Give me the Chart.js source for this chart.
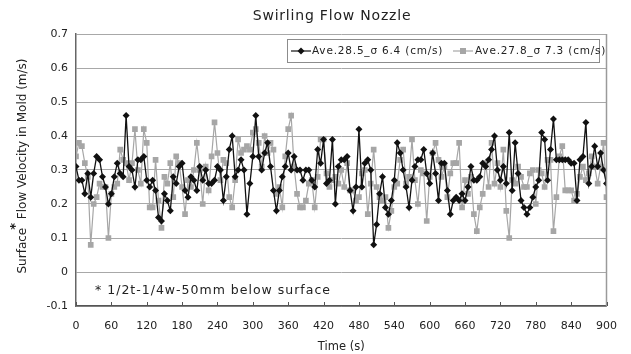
<!DOCTYPE html>
<html>
<head>
<meta charset="utf-8">
<script src="https://cdn.jsdelivr.net/npm/chart.js@4.4.1/dist/chart.umd.min.js"></script>
<style>
  html, body { margin: 0; padding: 0; background: #fff; }
  canvas { display: block; }
</style>
</head>
<body>
<canvas id="chart" width="631" height="354"></canvas>
<script>
// Surface flow velocity sampled every 5 s over a 900 s casting window
const sampleStepSec = 5;

const seriesLabels = ['Ave.28.5_\u03c3 6.4 (cm/s)', 'Ave.27.8_\u03c3 7.3 (cm/s)'];

// first series (black diamonds), m/s
const velocityA = [
  0.31, 0.27, 0.27, 0.23, 0.29, 0.22, 0.29, 0.34, 0.33, 0.28, 0.25, 0.20, 0.23, 0.28, 0.32, 0.29, 0.28, 0.46, 0.31, 0.30,
  0.25, 0.33, 0.33, 0.34, 0.27, 0.25, 0.27, 0.24, 0.16, 0.15,
  0.23, 0.21, 0.18, 0.28, 0.26, 0.31, 0.32, 0.24, 0.22, 0.28, 0.27, 0.24, 0.31, 0.27, 0.30, 0.26, 0.26, 0.27, 0.31, 0.30,
  0.21, 0.28, 0.36, 0.40, 0.28, 0.30, 0.33, 0.30, 0.17,
  0.26, 0.34, 0.46, 0.34, 0.30, 0.35, 0.38, 0.31, 0.24, 0.18, 0.24, 0.28, 0.31, 0.35, 0.30, 0.34, 0.30, 0.30, 0.27, 0.30,
  0.30, 0.27, 0.25, 0.36, 0.32, 0.39, 0.26, 0.27, 0.39, 0.20, 0.31, 0.33,
  0.33, 0.34, 0.24, 0.18, 0.25, 0.42, 0.25, 0.32, 0.33, 0.30, 0.08, 0.14, 0.23, 0.28, 0.19, 0.17, 0.21, 0.27, 0.38, 0.35,
  0.30, 0.25, 0.19, 0.27, 0.31, 0.33, 0.33, 0.36, 0.29, 0.26, 0.35,
  0.29, 0.21, 0.32, 0.32, 0.24, 0.17, 0.21, 0.22, 0.21, 0.23, 0.21, 0.25, 0.31, 0.27, 0.27, 0.28, 0.32, 0.31, 0.33, 0.36,
  0.40, 0.30, 0.27, 0.31, 0.26, 0.41, 0.24, 0.38, 0.29, 0.21, 0.19,
  0.17, 0.19, 0.22, 0.25, 0.27, 0.41, 0.39, 0.27, 0.36, 0.45, 0.33, 0.33, 0.33, 0.33, 0.33, 0.32, 0.32, 0.21, 0.33, 0.34,
  0.44, 0.26, 0.31, 0.37, 0.31, 0.35, 0.30, 0.26
];

// second series (grey squares), m/s
const velocityB = [
  0.34, 0.38, 0.37, 0.32, 0.28, 0.08, 0.20, 0.22, 0.26, 0.25, 0.25, 0.10, 0.23, 0.25, 0.26, 0.36, 0.33, 0.32, 0.27, 0.32,
  0.42, 0.30, 0.26, 0.42, 0.38, 0.19, 0.19, 0.33, 0.21, 0.13,
  0.28, 0.26, 0.32, 0.22, 0.34, 0.32, 0.25, 0.17, 0.27, 0.25, 0.30, 0.38, 0.30, 0.20, 0.31, 0.24, 0.34, 0.44, 0.35, 0.27,
  0.33, 0.32, 0.22, 0.19, 0.27, 0.39, 0.35, 0.36, 0.37,
  0.36, 0.41, 0.42, 0.38, 0.31, 0.40, 0.35, 0.38, 0.36, 0.23, 0.25, 0.19, 0.34, 0.42, 0.46, 0.31, 0.23, 0.19, 0.19, 0.21,
  0.26, 0.27, 0.19, 0.28, 0.39, 0.39, 0.29, 0.25, 0.27, 0.28, 0.26, 0.30,
  0.25, 0.32, 0.24, 0.24, 0.21, 0.22, 0.29, 0.30, 0.17, 0.26, 0.36, 0.25, 0.22, 0.21, 0.22, 0.13, 0.18, 0.25, 0.26, 0.33,
  0.36, 0.26, 0.28, 0.39, 0.27, 0.20, 0.30, 0.29, 0.15, 0.28, 0.35,
  0.38, 0.33, 0.28, 0.31, 0.22, 0.29, 0.32, 0.32, 0.38, 0.19, 0.27, 0.23, 0.28, 0.17, 0.12, 0.19, 0.23, 0.32, 0.25, 0.38,
  0.26, 0.32, 0.25, 0.36, 0.18, 0.10, 0.27, 0.26, 0.31, 0.28, 0.25,
  0.25, 0.29, 0.30, 0.20, 0.30, 0.29, 0.25, 0.33, 0.33, 0.12, 0.22, 0.34, 0.37, 0.24, 0.24, 0.24, 0.21, 0.23, 0.28, 0.31,
  0.27, 0.29, 0.34, 0.31, 0.26, 0.31, 0.38, 0.22
];

const timeTicks = [0, 60, 120, 180, 240, 300, 360, 420, 480, 540, 600, 660, 720, 780, 840, 900];
const velocityTicks = [-0.1, 0, 0.1, 0.2, 0.3, 0.4, 0.5, 0.6, 0.7];

const chartTitle = 'Swirling Flow Nozzle';
const footNote = '* 1/2t-1/4w-50mm below surface';

const toPoints = vals => vals.map((v, i) => ({ x: i * sampleStepSec, y: v }));

const COLOR_A = '#111111';
const COLOR_B = '#a6a6a6';
const TEXT = '#222222';
const FONT = '"DejaVu Sans", sans-serif';

// title, y-axis caption, footnote, frame, inner ticks and legend
const decorations = {
  id: 'decorations',
  afterDraw(chart) {
    const { ctx, chartArea: a, scales } = chart;
    ctx.save();

    // right border of the plot frame
    ctx.strokeStyle = '#9a9a9a';
    ctx.lineWidth = 1.5;
    ctx.beginPath();
    ctx.moveTo(a.right, a.top);
    ctx.lineTo(a.right, a.bottom);
    ctx.stroke();

    // tick marks pointing into the plot from the time axis
    ctx.strokeStyle = '#555';
    ctx.lineWidth = 1;
    timeTicks.forEach(t => {
      const x = Math.round(scales.x.getPixelForValue(t)) + 0.5;
      ctx.beginPath();
      ctx.moveTo(x, a.bottom);
      ctx.lineTo(x, a.bottom - 4);
      ctx.stroke();
    });

    // chart title
    ctx.fillStyle = TEXT;
    ctx.font = '14px ' + FONT;
    ctx.letterSpacing = '0.8px';
    ctx.textAlign = 'center';
    ctx.textBaseline = 'middle';
    ctx.fillText(chartTitle, 332, 16);
    ctx.letterSpacing = '0px';

    // rotated y-axis caption with the raised asterisk after "Surface"
    ctx.save();
    ctx.translate(23, 165);
    ctx.rotate(-Math.PI / 2);
    ctx.font = '12px ' + FONT;
    const p1 = 'Surface';
    const star = '*';
    const p2 = ' Flow Velocity in Mold (m/s)';
    const w1 = ctx.measureText(p1).width;
    ctx.font = 'bold 13px ' + FONT;
    const ws = ctx.measureText(star).width;
    ctx.font = '12px ' + FONT;
    const w2 = ctx.measureText(p2).width;
    const x0 = -(w1 + ws + w2) / 2;
    ctx.textAlign = 'left';
    ctx.textBaseline = 'middle';
    ctx.fillText(p1, x0, 0);
    ctx.font = 'bold 13px ' + FONT;
    ctx.fillText(star, x0 + w1 - 2, -7);
    ctx.font = '12px ' + FONT;
    ctx.fillText(p2, x0 + w1 + ws - 2, 0);
    ctx.restore();

    // footnote inside the plot
    ctx.font = '12.5px ' + FONT;
    ctx.letterSpacing = '1px';
    ctx.textAlign = 'left';
    ctx.textBaseline = 'middle';
    ctx.fillStyle = TEXT;
    ctx.fillText(footNote, 95, 291);

    // legend box
    const lx = 287, ly = 39, lw = 312, lh = 23;
    ctx.fillStyle = '#fff';
    ctx.fillRect(lx, ly, lw, lh);
    ctx.strokeStyle = '#8c8c8c';
    ctx.lineWidth = 1;
    ctx.strokeRect(lx + 0.5, ly + 0.5, lw, lh);
    const cy = ly + lh / 2 + 0.5;
    ctx.font = '10.5px ' + FONT;
    ctx.letterSpacing = '0.8px';
    ctx.textBaseline = 'middle';

    // entry 1: line with diamond
    ctx.strokeStyle = COLOR_A;
    ctx.lineWidth = 1.2;
    ctx.beginPath(); ctx.moveTo(291, cy); ctx.lineTo(311, cy); ctx.stroke();
    ctx.fillStyle = COLOR_A;
    ctx.beginPath();
    ctx.moveTo(301, cy - 3.5); ctx.lineTo(304.5, cy); ctx.lineTo(301, cy + 3.5); ctx.lineTo(297.5, cy);
    ctx.closePath(); ctx.fill();
    ctx.fillStyle = TEXT;
    ctx.fillText(seriesLabels[0], 312, cy);

    // entry 2: line with square
    ctx.strokeStyle = COLOR_B;
    ctx.beginPath(); ctx.moveTo(453, cy); ctx.lineTo(473, cy); ctx.stroke();
    ctx.fillStyle = COLOR_B;
    ctx.fillRect(460, cy - 3, 6, 6);
    ctx.fillStyle = TEXT;
    ctx.fillText(seriesLabels[1], 475, cy);
    ctx.letterSpacing = '0px';

    ctx.restore();
  }
};

new Chart(document.getElementById('chart'), {
  type: 'line',
  data: {
    datasets: [
      {
        label: seriesLabels[0],
        data: toPoints(velocityA),
        borderColor: COLOR_A,
        backgroundColor: COLOR_A,
        borderWidth: 1.3,
        pointStyle: 'rectRot',
        pointRadius: 3.5,
        pointBorderWidth: 0,
        tension: 0
      },
      {
        label: seriesLabels[1],
        data: toPoints(velocityB),
        borderColor: COLOR_B,
        backgroundColor: COLOR_B,
        borderWidth: 1.2,
        pointStyle: 'rect',
        pointRadius: 4,
        pointBorderWidth: 0,
        tension: 0
      }
    ]
  },
  options: {
    responsive: false,
    animation: false,
    layout: { padding: { top: 34, right: 24, left: 0, bottom: 0 } },
    plugins: {
      legend: { display: false },
      title: { display: false },
      tooltip: { enabled: false }
    },
    scales: {
      x: {
        type: 'linear',
        min: 0,
        max: 900,
        afterFit: s => { s.height = 48; },
        afterBuildTicks: s => { s.ticks = timeTicks.map(v => ({ value: v })); },
        grid: { display: false, drawTicks: false },
        border: { display: true, color: '#555', width: 1.5 },
        ticks: { color: TEXT, font: { family: FONT, size: 11 }, padding: 14, maxRotation: 0 },
        title: { display: true, text: 'Time (s)', color: TEXT, font: { family: FONT, size: 11.5 }, padding: { top: 0, bottom: 0 } }
      },
      y: {
        min: -0.1,
        max: 0.7,
        afterFit: s => { s.width = 76; },
        afterBuildTicks: s => { s.ticks = velocityTicks.map(v => ({ value: v })); },
        grid: { color: '#a8a8a8', lineWidth: 1, drawTicks: false },
        border: { display: true, color: '#666', width: 1.5 },
        ticks: {
          color: TEXT,
          font: { family: FONT, size: 11 },
          padding: 8,
          callback: v => (Math.abs(v) < 1e-9 ? '0' : v.toFixed(1))
        }
      }
    }
  },
  plugins: [decorations]
});
</script>
</body>
</html>
